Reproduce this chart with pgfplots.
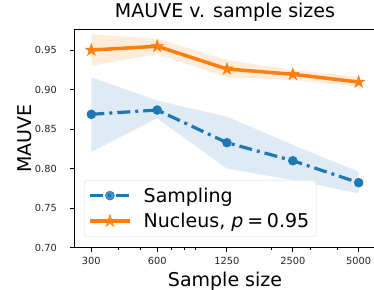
\documentclass[border=0pt]{standalone}
\usepackage{pgfplots}
\pgfplotsset{compat=1.18}
\usepackage{fontspec}
\setmainfont{DejaVu Sans}
\definecolor{tabblue}{HTML}{1F77B4}
\definecolor{taborange}{HTML}{FF7F0E}
\pgfdeclareplotmark{fstar}{%
  \pgfpathmoveto{\pgfpointpolar{90}{\pgfplotmarksize}}%
  \pgfpathlineto{\pgfpointpolar{126}{0.382\pgfplotmarksize}}%
  \pgfpathlineto{\pgfpointpolar{162}{\pgfplotmarksize}}%
  \pgfpathlineto{\pgfpointpolar{198}{0.382\pgfplotmarksize}}%
  \pgfpathlineto{\pgfpointpolar{234}{\pgfplotmarksize}}%
  \pgfpathlineto{\pgfpointpolar{270}{0.382\pgfplotmarksize}}%
  \pgfpathlineto{\pgfpointpolar{306}{\pgfplotmarksize}}%
  \pgfpathlineto{\pgfpointpolar{342}{0.382\pgfplotmarksize}}%
  \pgfpathlineto{\pgfpointpolar{18}{\pgfplotmarksize}}%
  \pgfpathlineto{\pgfpointpolar{54}{0.382\pgfplotmarksize}}%
  \pgfpathclose\pgfusepathqfillstroke}
\pgfplotsset{longlegend/.style={legend image code/.code={\draw[mark repeat=2,mark phase=2,##1] plot coordinates {(0pt,0pt) (20pt,0pt) (40pt,0pt)};}}}
\begin{document}
\begin{tikzpicture}
\begin{axis}[
  at={(0pt,0pt)}, anchor=south west,
  scale only axis, width=302pt, height=218.4pt,
  xmode=log, xmin=250, xmax=6000,
  ymin=0.70, ymax=0.9762,
  xtick={300,600,1250,2500,5000},
  xticklabels={300,600,1250,2500,5000},
  minor xtick={400,500,700,800,900,2000,3000,4000},
  ytick={0.70,0.75,0.80,0.85,0.90,0.95},
  /pgf/number format/fixed,
  /pgf/number format/fixed zerofill,
  /pgf/number format/precision=2,
  /pgf/number format/assume math mode=true,
  xtick pos=bottom, ytick pos=left,
  tick align=outside,
  major tick length=4pt, minor tick length=2.5pt,
  every tick/.style={black, line width=0.9pt},
  every minor tick/.style={black, line width=0.7pt},
  axis line style={black, line width=0.9pt},
  tick label style={font=\fontsize{9.8}{11}\selectfont, text=black!85},
  xticklabel style={inner sep=0pt, anchor=north, yshift=-5pt},
  yticklabel style={inner sep=0pt, anchor=east, xshift=-13pt},
  title={MAUVE v. sample sizes},
  title style={font=\fontsize{19}{22}\selectfont, at={(axis description cs:0.5,1)}, anchor=base, yshift=6pt},
  xlabel={Sample size},
  xlabel style={font=\fontsize{19}{22}\selectfont, at={(axis description cs:0.5,0)}, anchor=base, yshift=-39pt},
  ylabel={MAUVE},
  ylabel style={font=\fontsize{19}{22}\selectfont, at={(axis description cs:-0.1639,0.5)}, anchor=center},
  legend style={at={(axis description cs:0.0331,0.0504)}, anchor=south west,
    font=\fontsize{19}{22}\selectfont, draw=black!15, rounded corners=3pt,
    fill=white, fill opacity=0.8, text opacity=1, draw opacity=1,
    inner xsep=4pt, inner ysep=4.5pt, row sep=3.5pt,
    nodes={inner sep=3pt},
    /tikz/every odd column/.style={column sep=9pt}},
  legend cell align=left,
]
% Sampling band
\addplot[forget plot, draw=none, fill=tabblue, fill opacity=0.15] coordinates {
  (300,0.9155) (600,0.886) (1250,0.8657) (2500,0.830) (5000,0.796)
  (5000,0.7688) (2500,0.7856) (1250,0.800) (600,0.8636) (300,0.8214)} -- cycle;
% Nucleus band
\addplot[forget plot, draw=none, fill=taborange, fill opacity=0.15] coordinates {
  (300,0.9699) (600,0.9643) (1250,0.9374) (2500,0.9247) (5000,0.9162)
  (5000,0.9036) (2500,0.912) (1250,0.9155) (600,0.9449) (300,0.930)} -- cycle;
\addplot[longlegend, tabblue, line width=3.2pt, dash pattern=on 13pt off 5pt on 3pt off 5pt,
  mark=*, mark size=4.5pt, mark options={solid, line width=0.5pt}] coordinates {
  (300,0.8687) (600,0.8741) (1250,0.8328) (2500,0.810) (5000,0.7822)};
\addlegendentry{Sampling}
\addplot[longlegend, taborange, line width=3.5pt, mark=fstar, mark size=6.5pt,
  mark options={solid, fill=taborange, line width=0.5pt}] coordinates {
  (300,0.950) (600,0.9547) (1250,0.926) (2500,0.9193) (5000,0.9095)};
\addlegendentry{Nucleus, \textit{p}\hspace{0.2em}=\hspace{0.2em}0.95}
\end{axis}
\pgfresetboundingbox
\useasboundingbox (-74pt,-41.3pt) rectangle (300pt,247.7pt);
\end{tikzpicture}
\end{document}
